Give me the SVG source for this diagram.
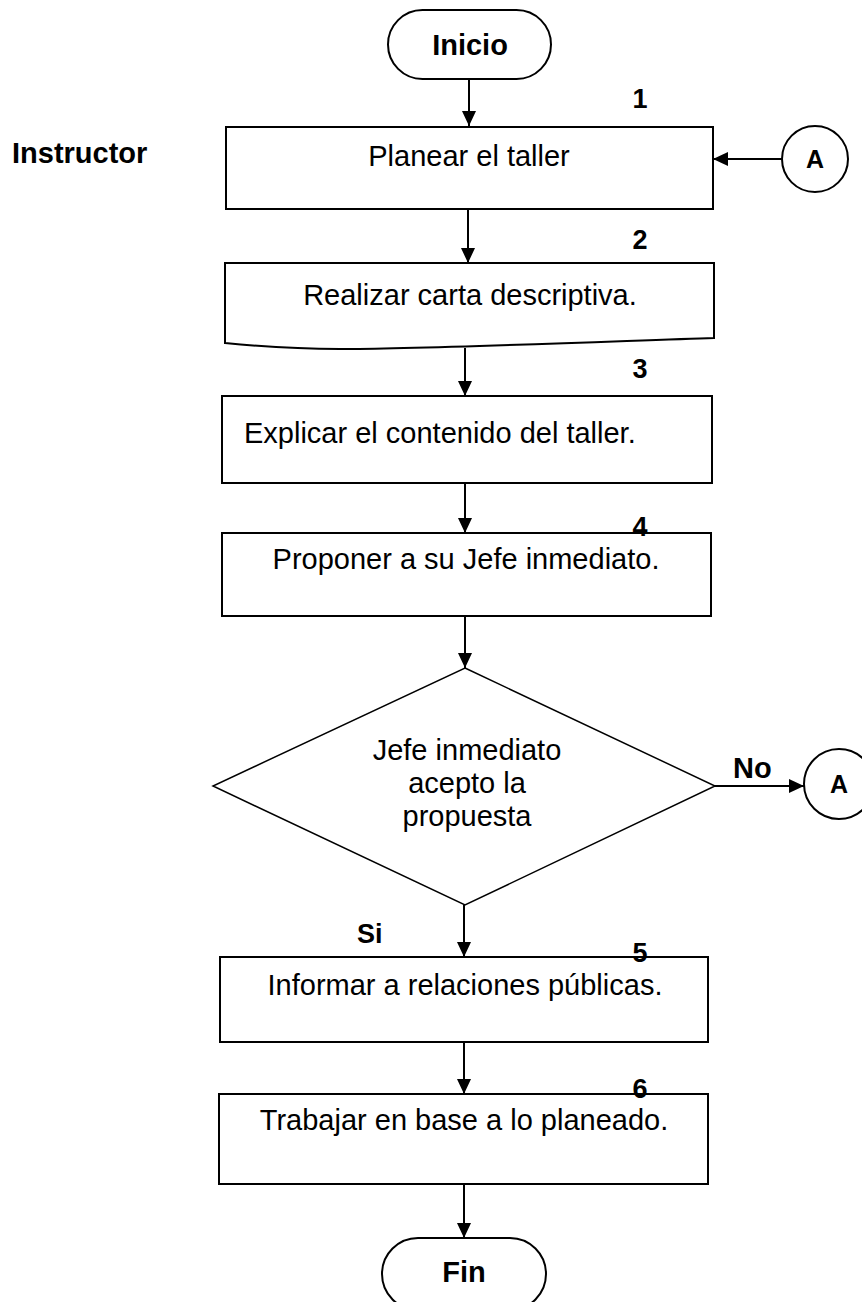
<svg xmlns="http://www.w3.org/2000/svg" width="862" height="1302" viewBox="0 0 862 1302">
<defs>
<style>
.shape{fill:#fff;stroke:#000;stroke-width:2}
.dia{fill:#fff;stroke:#000;stroke-width:1.5}
.t{font-family:"Liberation Sans",Arial,sans-serif;font-size:29px;fill:#000}
.b{font-family:"Liberation Sans",Arial,sans-serif;font-weight:bold;font-size:29px;fill:#000}
.n{font-family:"Liberation Sans",Arial,sans-serif;font-weight:bold;font-size:27px;fill:#000}
.c{font-family:"Liberation Sans",Arial,sans-serif;font-weight:bold;font-size:25px;fill:#000}
.ln{fill:none;stroke:#000;stroke-width:2}
</style>
<marker id="ah" viewBox="0 0 15 14" refX="15" refY="7" markerWidth="15" markerHeight="14" markerUnits="userSpaceOnUse" orient="auto">
<path d="M0,0 L15,7 L0,14 Z" fill="#000"/>
</marker>
</defs>
<rect width="862" height="1302" fill="#fff"/>

<g id="lane"><text class="b" x="12" y="163">Instructor</text></g>

<g id="connectors">
<line class="ln" x1="469" y1="79" x2="469" y2="126" marker-end="url(#ah)"/>
<line class="ln" x1="782" y1="159" x2="713" y2="159" marker-end="url(#ah)"/>
<line class="ln" x1="468" y1="209" x2="468" y2="263" marker-end="url(#ah)"/>
<line class="ln" x1="465" y1="348" x2="465" y2="396" marker-end="url(#ah)"/>
<line class="ln" x1="465" y1="483" x2="465" y2="533" marker-end="url(#ah)"/>
<line class="ln" x1="465" y1="616" x2="465" y2="668" marker-end="url(#ah)"/>
<line class="ln" x1="715" y1="786" x2="804" y2="786" marker-end="url(#ah)"/>
<line class="ln" x1="464" y1="905" x2="464" y2="957" marker-end="url(#ah)"/>
<line class="ln" x1="464" y1="1042" x2="464" y2="1094" marker-end="url(#ah)"/>
<line class="ln" x1="464" y1="1184" x2="464" y2="1238" marker-end="url(#ah)"/>
<text class="b" x="733" y="778">No</text>
<text class="b" x="357" y="943" style="font-size:27px">Si</text>
</g>

<g id="inicio">
<rect class="shape" x="388" y="10" width="163" height="69" rx="34.5"/>
<text class="b" x="470" y="55" text-anchor="middle">Inicio</text>
</g>

<g id="step1">
<rect class="shape" x="226" y="127" width="487" height="82"/>
<text class="t" x="469" y="166" text-anchor="middle">Planear el taller</text>
</g>

<g id="connA1">
<circle class="shape" cx="815" cy="159" r="33"/>
<text class="c" x="815" y="168" text-anchor="middle">A</text>
</g>

<g id="step2">
<path class="shape" d="M225,263 H714 V338 C620,341 420,349 340,349 C290,349 255,346 225,343 Z"/>
<text class="t" x="470" y="305" text-anchor="middle">Realizar carta descriptiva.</text>
</g>

<g id="step3">
<rect class="shape" x="222" y="396" width="490" height="87"/>
<text class="t" x="244" y="443">Explicar el contenido del taller.</text>
</g>

<g id="step4">
<rect class="shape" x="222" y="533" width="489" height="83"/>
<text class="t" x="466" y="569" text-anchor="middle">Proponer a su Jefe inmediato.</text>
</g>

<g id="decision">
<polygon class="dia" points="465,668 715,786 465,905 213,786"/>
<text class="t" x="467" y="760" text-anchor="middle">Jefe inmediato</text>
<text class="t" x="467" y="793" text-anchor="middle">acepto la</text>
<text class="t" x="467" y="826" text-anchor="middle">propuesta</text>
</g>

<g id="connA2">
<circle class="shape" cx="839" cy="784" r="35"/>
<text class="c" x="839" y="793" text-anchor="middle">A</text>
</g>

<g id="step5">
<rect class="shape" x="220" y="957" width="488" height="85"/>
<text class="t" x="465" y="995" text-anchor="middle">Informar a relaciones públicas.</text>
</g>

<g id="step6">
<rect class="shape" x="219" y="1094" width="489" height="90"/>
<text class="t" x="464" y="1130" text-anchor="middle">Trabajar en base a lo planeado.</text>
</g>

<g id="fin">
<rect class="shape" x="382" y="1238" width="164" height="72" rx="36"/>
<text class="b" x="464" y="1282" text-anchor="middle">Fin</text>
</g>

<g id="numbers">
<text class="n" x="640" y="108" text-anchor="middle">1</text>
<text class="n" x="640" y="249" text-anchor="middle">2</text>
<text class="n" x="640" y="378" text-anchor="middle">3</text>
<text class="n" x="640" y="536" text-anchor="middle">4</text>
<text class="n" x="640" y="962" text-anchor="middle">5</text>
<text class="n" x="640" y="1098" text-anchor="middle">6</text>
</g>
</svg>
